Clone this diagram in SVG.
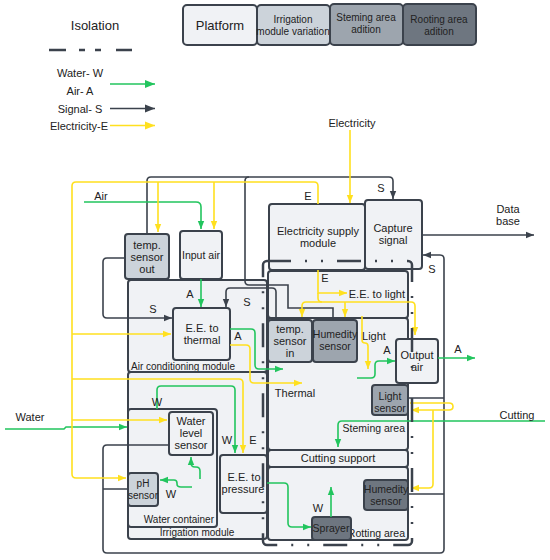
<svg xmlns="http://www.w3.org/2000/svg" width="550" height="560" viewBox="0 0 550 560">
<style>
.t{font-family:"Liberation Sans",Arial,sans-serif;font-size:11px;fill:#222;text-anchor:middle;dominant-baseline:central}
.st{text-anchor:start}.en{text-anchor:end}
.box{stroke:#3b424c;stroke-width:2}
.lt{fill:#f0f2f5}.c1{fill:#ccd3da}.c2{fill:#9da5ae}.c3{fill:#6e7680}
.g{stroke:#22c55e;stroke-width:1.6;fill:none}
.y{stroke:#ffe01f;stroke-width:1.6;fill:none}
.s{stroke:#3b424c;stroke-width:1.6;fill:none}
.iso{stroke:#3b424c;stroke-width:2.5;fill:none;stroke-dasharray:24 14 2 14 2 14}
</style>
<defs>
<marker id="ag" viewBox="0 0 10 10" refX="10" refY="5" markerWidth="8" markerHeight="8" markerUnits="userSpaceOnUse" orient="auto"><path d="M0,1 L10,5 L0,9z" fill="#22c55e"/></marker>
<marker id="ay" viewBox="0 0 10 10" refX="10" refY="5" markerWidth="8" markerHeight="8" markerUnits="userSpaceOnUse" orient="auto"><path d="M0,1 L10,5 L0,9z" fill="#ffe01f"/></marker>
<marker id="as" viewBox="0 0 10 10" refX="10" refY="5" markerWidth="8" markerHeight="8" markerUnits="userSpaceOnUse" orient="auto"><path d="M0,1 L10,5 L0,9z" fill="#3b424c"/></marker>
<marker id="lg" viewBox="0 0 10 10" refX="10" refY="5" markerWidth="11" markerHeight="10" markerUnits="userSpaceOnUse" orient="auto"><path d="M0,1 L10,5 L0,9z" fill="#22c55e"/></marker>
<marker id="ly" viewBox="0 0 10 10" refX="10" refY="5" markerWidth="11" markerHeight="10" markerUnits="userSpaceOnUse" orient="auto"><path d="M0,1 L10,5 L0,9z" fill="#ffe01f"/></marker>
<marker id="ls" viewBox="0 0 10 10" refX="10" refY="5" markerWidth="11" markerHeight="10" markerUnits="userSpaceOnUse" orient="auto"><path d="M0,1 L10,5 L0,9z" fill="#3b424c"/></marker>
</defs>
<rect width="550" height="560" fill="#fff"/>

<g id="legend">
<text class="t" x="95" y="25" style="font-size:13px">Isolation</text>
<path d="M49,50H66M79,50H85M95,50H101M116,50H132" stroke="#3b424c" stroke-width="2.5"/>
<text class="t" x="80" y="73">Water- W</text>
<text class="t" x="80" y="91">Air- A</text>
<text class="t" x="80" y="109">Signal- S</text>
<text class="t" x="79" y="126">Electricity-E</text>
<path class="g" d="M110,84H155" marker-end="url(#lg)"/>
<path class="s" d="M110,108.5H155" marker-end="url(#ls)"/>
<path class="y" d="M110,125.5H155" marker-end="url(#ly)"/>
</g>

<g id="key">
<rect class="box lt" x="183" y="5" width="74" height="40" rx="4"/>
<text class="t" x="220" y="25" style="font-size:13px">Platform</text>
<rect class="box c1" x="257" y="5" width="73" height="40" rx="4"/>
<text class="t" x="293" y="19" style="font-size:10px">Irrigation</text>
<text class="t" x="293" y="31" style="font-size:10px">module variation</text>
<rect class="box c2" x="330" y="4" width="73" height="41" rx="4"/>
<text class="t" x="366" y="17" style="font-size:10px">Steming area</text>
<text class="t" x="366" y="29" style="font-size:10px">adition</text>
<rect class="box c3" x="403" y="4" width="73" height="41" rx="4"/>
<text class="t" x="439" y="19" style="font-size:10px">Rooting area</text>
<text class="t" x="439" y="31" style="font-size:10px">adition</text>
</g>

<g id="air-conditioning-module"><rect class="box lt" x="128" y="280" width="139" height="92" rx="3"/><text class="t st" x="131" y="366" style="font-size:10px">Air conditioning module</text></g>
<g id="irrigation-module"><rect class="box lt" x="128" y="372" width="139" height="167" rx="3"/><text class="t" x="197" y="532" style="font-size:10px">Irrigation module</text></g>
<g id="water-container"><rect class="box lt" x="128" y="409" width="89" height="118" rx="3"/><text class="t en" x="214" y="519" style="font-size:10px">Water container</text></g>
<g id="water-level-sensor"><rect class="box lt" x="169" y="412" width="44" height="43" rx="3"/><text class="t" x="191" y="421">Water</text><text class="t" x="191" y="433">level</text><text class="t" x="191" y="445">sensor</text></g>
<g id="ph-sensor"><rect class="box c1" x="128" y="473" width="30" height="33" rx="3"/><text class="t" x="143" y="483" style="font-size:10px">pH</text><text class="t" x="143" y="495" style="font-size:10px">sensor</text></g>
<g id="ee-pressure"><rect class="box lt" x="220" y="455" width="47" height="58" rx="3"/><text class="t" x="244" y="477">E.E. to</text><text class="t" x="243" y="489">pressure</text></g>
<g id="temp-sensor-out"><rect class="box c1" x="125" y="234" width="44" height="45" rx="3"/><text class="t" x="147" y="245">temp.</text><text class="t" x="147" y="257">sensor</text><text class="t" x="147" y="269">out</text></g>
<g id="input-air"><rect class="box lt" x="180" y="231" width="42" height="48" rx="3"/><text class="t" x="201" y="255" style="font-size:10.5px">Input air</text></g>
<g id="ee-thermal"><rect class="box lt" x="173" y="308" width="57" height="52" rx="3"/><text class="t" x="202" y="328">E.E. to</text><text class="t" x="202" y="340">thermal</text></g>
<g id="electricity-supply"><rect class="box lt" x="269" y="204" width="96" height="66" rx="3"/><text class="t" x="318" y="231">Electricity supply</text><text class="t" x="318" y="243">module</text></g>
<g id="capture-signal"><rect class="box lt" x="365" y="200" width="57" height="69" rx="3"/><text class="t" x="393" y="228">Capture</text><text class="t" x="393" y="240">signal</text></g>
<g id="ee-light"><rect class="box lt" x="268" y="271" width="140" height="47" rx="3"/><text class="t en" x="405" y="294">E.E. to light</text></g>
<g id="steming-area"><rect class="box lt" x="268" y="318" width="140" height="132" rx="3"/><text class="t en" x="405" y="428" style="font-size:10.5px">Steming area</text></g>
<g id="temp-sensor-in"><rect class="box c1" x="268" y="320" width="44" height="42" rx="3"/><text class="t" x="290" y="329">temp.</text><text class="t" x="290" y="341">sensor</text><text class="t" x="290" y="353">in</text></g>
<g id="humedity-sensor-stem"><rect class="box c2" x="313" y="320" width="44" height="42" rx="3"/><text class="t" x="335" y="334" style="font-size:10.5px">Humedity</text><text class="t" x="335" y="346" style="font-size:10.5px">sensor</text></g>
<g id="output-air"><rect class="box lt" x="396" y="339" width="42" height="44" rx="3"/><text class="t" x="417" y="355">Output</text><text class="t" x="417" y="367">air</text></g>
<g id="light-sensor"><rect class="box c2" x="372" y="385" width="36" height="30" rx="3"/><text class="t" x="390" y="396" style="font-size:10.5px">Light</text><text class="t" x="390" y="408" style="font-size:10.5px">sensor</text></g>
<g id="cutting-support"><rect class="box lt" x="268" y="450" width="140" height="17" rx="3"/><text class="t" x="338" y="458">Cutting support</text></g>
<g id="rooting-area"><rect class="box lt" x="268" y="467" width="140" height="73" rx="3"/><text class="t en" x="405" y="533" style="font-size:10.5px">Rotting area</text></g>
<g id="sprayer"><rect class="box c3" x="312" y="517" width="39" height="23" rx="3"/><text class="t" x="331" y="528" style="font-size:10.5px">Sprayer</text></g>
<g id="humedity-sensor-root"><rect class="box c3" x="364" y="480" width="44" height="30" rx="3"/><text class="t" x="386" y="489" style="font-size:10.5px">Humedity</text><text class="t" x="386" y="501" style="font-size:10.5px">sensor</text></g>

<g id="connectors">
<path class="s" d="M147,234V181Q147,177 151,177H389Q393,177 393,181V199" marker-end="url(#as)"/>
<path class="s" d="M333,320V308H288V285H249Q245,285 245,281V181Q245,177 249,177"/>
<path class="s" d="M125,258H107Q103,258 103,262V314Q103,318 107,318H172" marker-end="url(#as)"/>
<path class="s" d="M276,320V292Q276,288 272,288H230Q226,288 226,292V307" marker-end="url(#as)"/>
<path class="s" d="M169,445H107Q103,445 103,449V549Q103,553 107,553H440Q444,553 444,549V259Q444,255 440,255H423" marker-end="url(#as)"/>
<path class="s" d="M128,489H103M408,398H444M408,494H444"/>
<path class="s" d="M422,235H534" marker-end="url(#as)"/>

<path class="g" d="M84,202H196Q201,202 201,207V229" marker-end="url(#ag)"/>
<path class="g" d="M201,279V307" marker-end="url(#ag)"/>
<path class="g" d="M230,329H251Q255,329 255,333V365Q255,369 259,369H283" marker-end="url(#ag)"/>
<path class="g" d="M357,378H371Q375,378 375,374V365Q375,361 379,361H395" marker-end="url(#ag)"/>
<path class="g" d="M438,358H475" marker-end="url(#ag)"/>
<path class="g" d="M5,429H64L66,427H127" marker-end="url(#ag)"/>
<path class="g" d="M157,409V390Q157,386 161,386H231Q235,386 235,390V453" marker-end="url(#ag)"/>
<path class="g" d="M200,479V471Q200,467 196,467H195Q191,467 191,463V457" marker-end="url(#ag)"/>
<path class="g" d="M192,487H181Q177,487 177,484V483Q177,480 174,480H160" marker-end="url(#ag)"/>
<path class="g" d="M267,483H284Q288,483 288,487V523Q288,527 292,527H311" marker-end="url(#ag)"/>
<path class="g" d="M331,517V487" marker-end="url(#ag)"/>
<path class="g" d="M545,421H342Q338,421 338,425V447" marker-end="url(#ag)"/>

<path class="y" d="M350,130V203" marker-end="url(#ay)"/>
<path class="y" d="M318,204V186Q318,182 314,182H76Q72,182 72,186V474Q72,478 76,478H126" marker-end="url(#ay)"/>
<path class="y" d="M158,182V232" marker-end="url(#ay)"/>
<path class="y" d="M214,182V229" marker-end="url(#ay)"/>
<path class="y" d="M72,334H171" marker-end="url(#ay)"/>
<path class="y" d="M72,379H239Q243,379 243,383V453" marker-end="url(#ay)"/>
<path class="y" d="M72,420H167" marker-end="url(#ay)"/>
<path class="y" d="M230,345H246Q250,345 250,349V379Q250,383 254,383H302" marker-end="url(#ay)"/>
<path class="y" d="M318,270V293H347" marker-end="url(#ay)"/>
<path class="y" d="M318,293V298Q318,302 322,302H411Q415,302 415,306V335" marker-end="url(#ay)"/>
<path class="y" d="M322,302H306Q302,302 302,306V317" marker-end="url(#ay)"/>
<path class="y" d="M345,302V317" marker-end="url(#ay)"/>
<path class="y" d="M362,316V340Q362,343 365,343Q368,343 368,346V369" marker-end="url(#ay)"/>
<path class="y" d="M410,403H449Q453,403 453,406.5Q453,410 449,410H411" marker-end="url(#ay)"/>
<path class="y" d="M433,410V484Q433,488 429,488H411" marker-end="url(#ay)"/>
</g>

<g id="isolation">
<rect class="iso" x="263" y="261" width="149" height="284" rx="4"/>
</g>

<g id="labels">
<text class="t" x="352" y="123">Electricity</text>
<text class="t" x="308" y="196">E</text>
<text class="t" x="381" y="188">S</text>
<text class="t" x="508" y="209">Data</text>
<text class="t" x="508" y="221">base</text>
<text class="t" x="432" y="269">S</text>
<text class="t" x="101" y="196">Air</text>
<text class="t" x="190" y="294">A</text>
<text class="t" x="153" y="309">S</text>
<text class="t" x="247" y="302">S</text>
<text class="t" x="238" y="336">A</text>
<text class="t" x="295" y="393">Thermal</text>
<text class="t" x="325" y="278">E</text>
<text class="t" x="374" y="336">Light</text>
<text class="t" x="387" y="350">A</text>
<text class="t" x="458" y="349">A</text>
<text class="t" x="517" y="415">Cutting</text>
<text class="t" x="30" y="417">Water</text>
<text class="t" x="157" y="402">W</text>
<text class="t" x="227" y="440">W</text>
<text class="t" x="253" y="440">E</text>
<text class="t" x="171" y="494">W</text>
<text class="t" x="318" y="508">W</text>
</g>
</svg>
